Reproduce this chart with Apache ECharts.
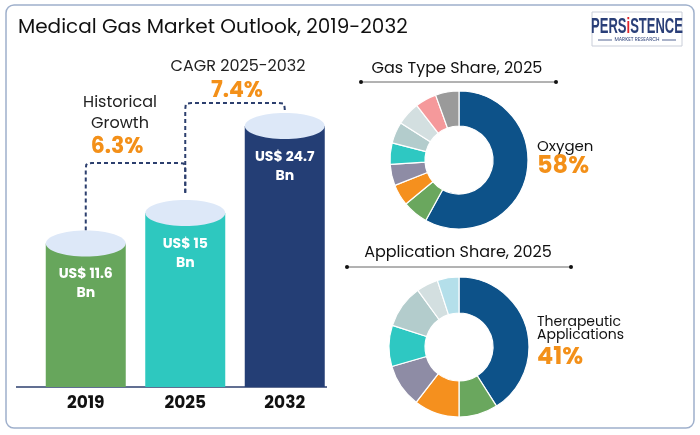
<!DOCTYPE html>
<html>
<head>
<meta charset="utf-8">
<script src="https://cdn.jsdelivr.net/npm/echarts@6/dist/echarts.min.js"></script>
<style>html,body{margin:0;padding:0;background:#fff;}#c{width:700px;height:435px;}</style>
</head>
<body>
<div id="c"></div>
<script>
// ---- data ----
const years = ['2019', '2025', '2032'];
const marketSize = [11.6, 15, 24.7];
const gasNames = ['Oxygen', 'Other 1', 'Other 2', 'Other 3', 'Other 4', 'Other 5', 'Other 6', 'Other 7', 'Other 8'];
const gasShare = [58, 6, 5, 5, 5, 5, 5.5, 5, 5.5];
const appNames = ['Therapeutic Applications', 'Other 1', 'Other 2', 'Other 3', 'Other 4', 'Other 5', 'Other 6', 'Other 7'];
const appShare = [41, 9, 10.5, 10, 9.5, 10, 5, 5];
const historicalCagr = '6.3%';
const forecastCagr = '7.4%';

// ---- styles ----
const FONT = 'Poppins, "Open Sans", Inter, sans-serif';
const ORANGE = '#f39019';
const barColors = ['#67a65c', '#2ec8bf', '#243e75'];
const gasColors = ['#0d5289', '#6aa75e', '#f5901e', '#8e8ca5', '#2ec8c2', '#b3cccc', '#d3dfe0', '#f5999b', '#9a9a9a'];
const appColors = ['#0d5289', '#6aa75e', '#f5901e', '#8e8ca5', '#2ec8c2', '#b3cccc', '#d3dfe0', '#b4dfea'];
const Y_MIN = -4.4, Y_MAX = 30;

const chart = echarts.init(document.getElementById('c'), null, {renderer: 'canvas'});

function cylinder(params, api) {
  const i = api.value(0);
  const v = api.value(1);
  const top = api.coord([i, v]);
  const base = api.coord([i, Y_MIN]);
  const w = 80, ry = 13;
  return {
    type: 'group',
    children: [
      {type: 'rect', shape: {x: top[0] - w / 2, y: top[1], width: w, height: base[1] - top[1]}, style: {fill: barColors[i]}},
      {type: 'ellipse', shape: {cx: top[0], cy: top[1], rx: w / 2, ry: ry}, style: {fill: '#dde8f8'}},
      {type: 'text', style: {text: 'US$ ' + v + '\nBn', x: top[0], y: top[1] + 22, align: 'center', verticalAlign: 'top',
        fill: '#ffffff', font: 'bold 14px ' + FONT, lineHeight: 19}}
    ]
  };
}

const option = {
  animation: false,
  backgroundColor: '#ffffff',
  grid: {left: 36, width: 298.5, top: 78.4, bottom: 48},
  xAxis: {type: 'category', data: years, axisLine: {show: false}, axisTick: {show: false},
    axisLabel: {color: '#111', fontWeight: 'bold', fontSize: 17, fontFamily: FONT, margin: 8}},
  yAxis: {type: 'value', min: Y_MIN, max: Y_MAX, show: false, splitLine: {show: false}},
  series: [
    {type: 'custom', renderItem: cylinder, data: marketSize.map((v, i) => [i, v]), silent: true},
    {type: 'pie', center: [459, 160], radius: [34, 69], startAngle: 90, label: {show: false}, labelLine: {show: false},
      itemStyle: {borderColor: '#fff', borderWidth: 1.2}, silent: true,
      data: gasShare.map((v, i) => ({name: gasNames[i], value: v, itemStyle: {color: gasColors[i]}}))},
    {type: 'pie', center: [459, 347], radius: [34, 70], startAngle: 90, label: {show: false}, labelLine: {show: false},
      itemStyle: {borderColor: '#fff', borderWidth: 1.2}, silent: true,
      data: appShare.map((v, i) => ({name: appNames[i], value: v, itemStyle: {color: appColors[i]}}))}
  ]
};
chart.setOption(option);

// connectors & annotations from axis coordinates
const p = marketSize.map((v, i) => chart.convertToPixel({gridIndex: 0}, [i, v]));
const baseY = chart.convertToPixel({gridIndex: 0}, [0, Y_MIN])[1];
const L1 = 163, L2 = 103, r = 6;
function conn(x1, y1, x2, y2, lv) {
  const k = r * 0.29;
  return [[x1, y1], [x1, lv + r], [x1 + k * 0.3, lv + k], [x1 + k, lv + k * 0.3], [x1 + r, lv],
          [x2 - r, lv], [x2 - k, lv + k * 0.3], [x2 - k * 0.3, lv + k], [x2, lv + r], [x2, y2]];
}
const dashStyle = {stroke: '#2c3f6e', lineWidth: 2, lineDash: [4, 3], fill: null};
function t(text, x, y, font, color, align) {
  return {type: 'text', style: {text: text, x: x, y: y, font: font, fill: color || '#1a1a1a', align: align || 'center', verticalAlign: 'middle'}};
}
function dottedRule(x1, x2, y) {
  return [
    {type: 'line', shape: {x1: x1, y1: y, x2: x2, y2: y}, style: {stroke: '#666', lineWidth: 1}},
    {type: 'circle', shape: {cx: x1, cy: y, r: 2}, style: {fill: '#111'}},
    {type: 'circle', shape: {cx: x2, cy: y, r: 2}, style: {fill: '#111'}}
  ];
}
const logoFont = 'bold 21px "Liberation Sans", Arial, sans-serif';

chart.setOption({
  graphic: [
    {type: 'rect', shape: {x: 6, y: 5, width: 688, height: 423, r: 8}, style: {fill: null, stroke: '#9fb0cc', lineWidth: 1.5}, z: 0},
    t('Medical Gas Market Outlook, 2019-2032', 18, 28, '20px ' + FONT, '#111', 'left'),
    // logo
    {type: 'rect', shape: {x: 592, y: 12, width: 90, height: 34}, style: {fill: '#fff', stroke: '#c9ced9', lineWidth: 1}},
    {type: 'text', x: 637, y: 27, scaleX: 0.62, scaleY: 1.05,
      style: {text: '{a|PERS}{b|i}{a|STENCE}', x: 0, y: 0, align: 'center', verticalAlign: 'middle',
      rich: {a: {fill: '#2a3f78', font: logoFont}, b: {fill: '#e0262b', font: logoFont}}}},
    {type: 'line', shape: {x1: 598, y1: 40, x2: 612, y2: 40}, style: {stroke: '#2a3f78', lineWidth: 0.8}},
    {type: 'line', shape: {x1: 662, y1: 40, x2: 676, y2: 40}, style: {stroke: '#2a3f78', lineWidth: 0.8}},
    t('MARKET RESEARCH', 637, 40, '5px ' + FONT, '#2a3f78'),
    // baseline
    {type: 'line', shape: {x1: 16, y1: baseY, x2: 327, y2: baseY}, style: {stroke: '#2c3f6e', lineWidth: 1.5}},
    // connectors
    {type: 'polyline', shape: {points: conn(p[0][0], p[0][1] - 13, p[1][0], p[1][1] - 20, L1)}, style: dashStyle},
    {type: 'polyline', shape: {points: conn(p[1][0], p[1][1] - 20, p[2][0], p[2][1] - 13, L2)}, style: dashStyle},
    t('Historical', 120, 103, '16px ' + FONT, '#222'),
    t('Growth', 120, 124, '16px ' + FONT, '#222'),
    t(historicalCagr, 117, 147, 'bold 22px ' + FONT, ORANGE),
    t('CAGR 2025-2032', 238, 67, '16px ' + FONT, '#222'),
    t(forecastCagr, 237, 91, 'bold 22px ' + FONT, ORANGE),
    // donut headings
    t('Gas Type Share, 2025', 457, 69, '16px ' + FONT, '#111'),
    ...dottedRule(361, 556, 82),
    t('Application Share, 2025', 458, 253, '16px ' + FONT, '#111'),
    ...dottedRule(347, 571, 267),
    t(gasNames[0], 537, 147, '15px ' + FONT, '#111', 'left'),
    t(gasShare[0] + '%', 537, 167, 'bold 24px ' + FONT, ORANGE, 'left'),
    t('Therapeutic', 537, 322, '14px ' + FONT, '#111', 'left'),
    t('Applications', 537, 335, '14px ' + FONT, '#111', 'left'),
    t(appShare[0] + '%', 537, 358, 'bold 24px ' + FONT, ORANGE, 'left')
  ]
});
</script>
</body>
</html>
